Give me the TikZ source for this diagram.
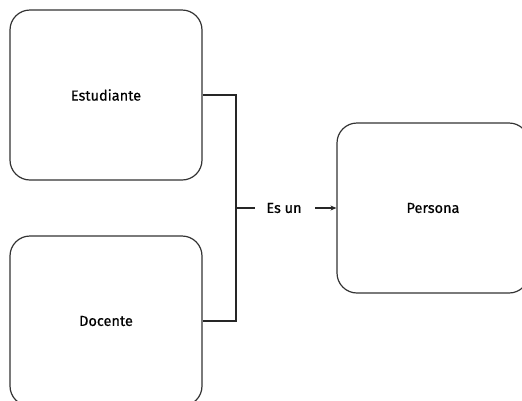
\documentclass[tikz,border=0pt]{standalone}
\usepackage{fontspec}
\setmainfont{Fira Sans}[FakeBold=0.6]
\usetikzlibrary{arrows.meta}
\begin{document}
\begin{tikzpicture}[x=1pt,y=-1pt,
  box/.style={draw=black!80, line width=1.2pt, rounded corners=20pt, minimum width=192pt, minimum height=170pt, inner sep=0pt, font=\fontsize{14.5}{17}\selectfont},
  conn/.style={draw=black!85, line width=1.2pt},
  lbl/.style={font=\fontsize{14.5}{17}\selectfont, inner sep=0pt}]
\useasboundingbox (0,0) rectangle (522,400);
\clip (0,0) rectangle (522,400);
\node[box] (est) at (106,95) {Estudiante};
\node[box] (doc) at (106,321) {Docente};
\node[box] (per) at (433,208) {Persona};
\coordinate (j) at (236,208);
\node[lbl] (es) at (284,208) {Es un};
\draw[conn] (est.east) -| (j) |- (doc.east);
\draw[conn] (j) -- (255,208);
\draw[conn, -{Stealth[length=6pt,width=5pt]}] (315,208) -- (per.west);
\end{tikzpicture}
\end{document}
